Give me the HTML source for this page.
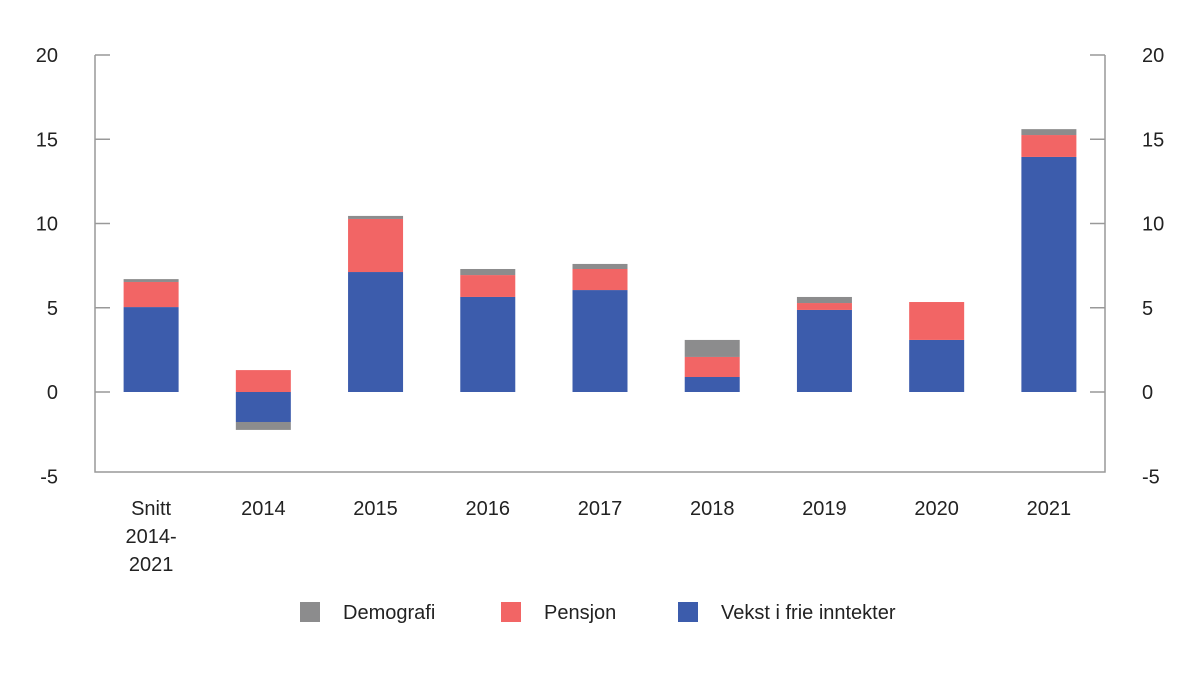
<!DOCTYPE html>
<html><head><meta charset="utf-8"><style>
body{margin:0;background:#fff;}
text{font-family:"Liberation Sans",sans-serif;font-size:20px;fill:#222;}
</style></head><body>
<svg id="chart" width="1200" height="684"></svg>
<script>
const categories=[["Snitt","2014-","2021"],["2014"],["2015"],["2016"],["2017"],["2018"],["2019"],["2020"],["2021"]];
const vekst=[5.04,-1.78,7.12,5.64,6.05,0.89,4.87,3.09,13.95];
const pensjon=[1.49,1.3,3.15,1.3,1.25,1.19,0.41,2.25,1.3];
const demografi=[0.17,-0.47,0.18,0.36,0.3,1.01,0.36,0,0.35];
const ticks=[20,15,10,5,0,-5];
const NS="http://www.w3.org/2000/svg";
const svg=document.getElementById('chart');
const L=95,R=1105,T=55,B=472;
const y=v=>392-v*16.85;
const bw=(R-L)/categories.length;
const x=i=>L+bw*(i+0.5);
function mk(t,a){const e=document.createElementNS(NS,t);for(const k in a)e.setAttribute(k,a[k]);svg.appendChild(e);return e;}
let e;
e=mk('path',{d:`M${L},${T}V${B}H${R}V${T}`,fill:'none',stroke:'#999','stroke-width':1.5});


ticks.forEach(t=>{
  e=mk('text',{x:58,y:y(t)+7,'text-anchor':'end'});e.textContent=t;
  
  
  e=mk('text',{x:1142,y:y(t)+7,'text-anchor':'start'});e.textContent=t;
  
  
  if(t>-5){
  e=mk('line',{x1:L,x2:L+15,y1:y(t),y2:y(t),stroke:'#999','stroke-width':1.5});
  
  
  e=mk('line',{x1:R-15,x2:R,y1:y(t),y2:y(t),stroke:'#999','stroke-width':1.5});
  
  }
});
const colors={v:'#3c5cac',p:'#f26565',d:'#8c8c8d'};
function bar(i,a,b,c,n){const y1=y(Math.max(a,b)),y2=y(Math.min(a,b));
 e=mk('rect',{x:x(i)-27.5,y:y1,width:55,height:Math.max(0,y2-y1),fill:c});
 
 }
categories.forEach((c,i)=>{
  bar(i,0,vekst[i],colors.v,'bar-vekst');
  let base=Math.max(0,vekst[i]);
  bar(i,base,base+pensjon[i],colors.p,'bar-pensjon');
  if(demografi[i]<0){bar(i,Math.min(0,vekst[i]),Math.min(0,vekst[i])+demografi[i],colors.d,'bar-demografi');}
  else bar(i,base+pensjon[i],base+pensjon[i]+demografi[i],colors.d,'bar-demografi');
  c.forEach((s,j)=>{e=mk('text',{x:x(i),y:515+j*28,'text-anchor':'middle'});e.textContent=s;
  
  });
});
[[300,'Demografi',colors.d],[501,'Pensjon',colors.p],[678,'Vekst i frie inntekter',colors.v]].forEach(l=>{
  e=mk('rect',{x:l[0],y:602,width:20,height:20,fill:l[2]});
  
  
  e=mk('text',{x:l[0]+43,y:619});e.textContent=l[1];
  
  
});
</script>
</body></html>
